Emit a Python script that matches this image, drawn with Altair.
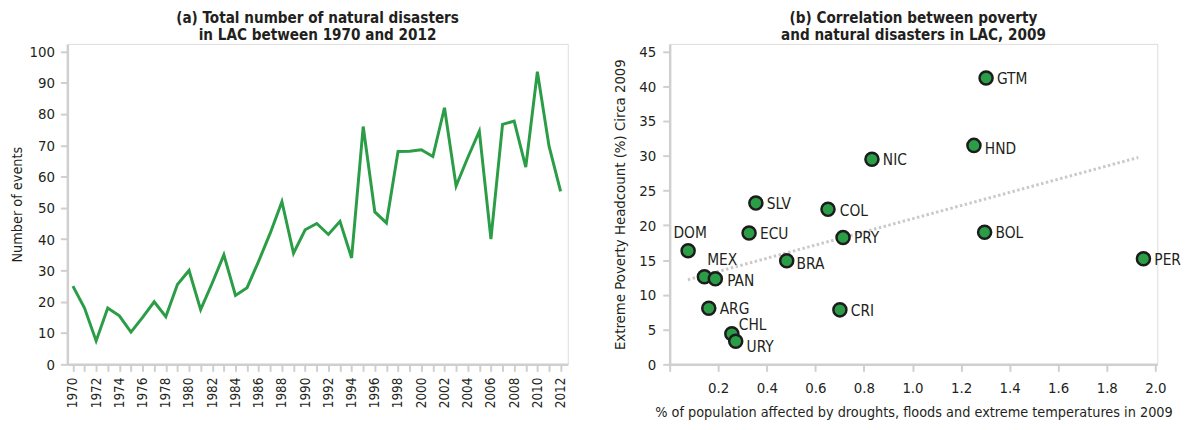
import altair as alt
import pandas as pd

# ---------------- data ----------------
years = list(range(1970, 2013))
events = [25, 18, 7.5, 18, 15.5, 10.3, 15, 20, 15.2, 25.5,
          30, 17.5, 26, 35, 22, 24.5, 33, 42, 52, 35.5,
          43, 45, 41.5, 45.7, 34, 76, 48.7, 45.2, 68, 68.1,
          68.6, 66.4, 82, 57, 66, 74.5, 40, 76.7, 77.7, 63,
          93.5, 69.8, 55.3]

countries = ["DOM", "MEX", "PAN", "ARG", "CHL", "URY", "SLV", "ECU", "BRA",
             "COL", "PRY", "CRI", "NIC", "GTM", "HND", "BOL", "PER"]
affected = [0.076, 0.143, 0.188, 0.161, 0.256, 0.272, 0.355, 0.327, 0.482,
            0.652, 0.714, 0.701, 0.833, 1.303, 1.253, 1.297, 1.951]
poverty = [16.35, 12.6, 12.3, 8.08, 4.4, 3.33, 23.2, 18.9, 14.9,
           22.3, 18.25, 7.84, 29.5, 41.2, 31.5, 19.0, 15.2]

title_a = ["(a) Total number of natural disasters", "in LAC between 1970 and 2012"]
title_b = ["(b) Correlation between poverty", "and natural disasters in LAC, 2009"]
ytitle_a = "Number of events"
ytitle_b = "Extreme Poverty Headcount (%) Circa 2009"
xtitle_b = "% of population affected by droughts, floods and extreme temperatures in 2009"

# ---------------- style ----------------
FONT = "'DejaVu Sans Condensed', 'Liberation Sans Narrow', 'DejaVu Sans', sans-serif"
GREEN = "#2a9d46"
AXIS_GRAY = "#cfcfcf"
TEXT = "#231f20"

# label offsets (dx, dy, align) for the scatter labels
default_off = (11, 1, "left")
label_off = {
    "DOM": (2, -18, "center"),
    "MEX": (18, -17, "center"),
    "CHL": (7, -9, "left"),
    "URY": (11, 6, "left"),
    "BRA": (10, 3, "left"),
    "HND": (11, 4, "left"),
    "COL": (12, 2, "left"),
    "PAN": (12, 2, "left"),
}

df_a = pd.DataFrame({"year": years, "events": events})
df_b = pd.DataFrame({"country": countries, "affected": affected, "poverty": poverty})

axis_style = dict(
    domainColor=AXIS_GRAY, domainWidth=2.5, tickColor=AXIS_GRAY, tickWidth=2,
    tickSize=7, grid=False, labelColor=TEXT, titleColor=TEXT,
    labelFont=FONT, titleFont=FONT, titleFontWeight="normal",
    labelOverlap=False, labelFlush=False,
)

def make_title(lines):
    return alt.TitleParams(text=lines, font=FONT, fontSize=15.3, fontWeight="bold",
                           color=TEXT, anchor="middle", lineHeight=16.5, offset=1)

# ---------------- panel (a) ----------------
left = alt.Chart(df_a).mark_line(color=GREEN, strokeWidth=3, strokeJoin="miter").encode(
    x=alt.X("year:Q",
            scale=alt.Scale(domain=[1969.52, 2012.62], nice=False, zero=False),
            axis=alt.Axis(values=years, format="d",
                          labelExpr="datum.value % 2 == 0 ? datum.label : ''",
                          labelAngle=270, labelFontSize=13.5, labelPadding=6,
                          title=None, **axis_style)),
    y=alt.Y("events:Q",
            scale=alt.Scale(domain=[0, 102.4], nice=False),
            axis=alt.Axis(values=list(range(0, 101, 10)), labelFontSize=15,
                          labelPadding=6, title=ytitle_a, titleFontSize=14.5,
                          titlePadding=5, **axis_style)),
).properties(width=506, height=324, title=make_title(title_a))

# ---------------- panel (b) ----------------
base_b = alt.Chart(df_b)

xb = alt.X("affected:Q",
           scale=alt.Scale(domain=[0, 2.008], nice=False),
           axis=alt.Axis(values=[0, 0.2, 0.4, 0.6, 0.8, 1.0, 1.2, 1.4, 1.6, 1.8, 2.0],
                         labelExpr="datum.value == 0 ? '' : format(datum.value, '.1f')",
                         labelFontSize=15, labelPadding=9, title=xtitle_b,
                         titleFontSize=14.5, titlePadding=11, **axis_style))
yb = alt.Y("poverty:Q",
           scale=alt.Scale(domain=[0, 46.1], nice=False),
           axis=alt.Axis(values=list(range(0, 46, 5)), labelFontSize=15,
                         labelPadding=7, title=ytitle_b, titleFontSize=15,
                         titlePadding=12, **axis_style))

trend = base_b.transform_regression(
    "affected", "poverty", extent=[0.075, 1.93]
).mark_line(color="#c9c9c9", strokeWidth=3, strokeDash=[2.5, 2.5]).encode(x=xb, y=yb)

points = base_b.mark_circle(color=GREEN, opacity=1, size=175,
                            stroke="#1c1c1c", strokeWidth=2.5).encode(x=xb, y=yb)

label_layers = []
for c in countries:
    dx, dy, al = label_off.get(c, default_off)
    label_layers.append(
        base_b.transform_filter(alt.datum.country == c).mark_text(
            font=FONT, fontSize=15.5, color=TEXT, dx=dx, dy=dy, align=al,
            baseline="middle").encode(x=xb, y=yb, text="country:N"))

right = alt.layer(trend, points, *label_layers).properties(
    width=493, height=324, title=make_title(title_b))

chart = alt.hconcat(left, right, spacing=43).properties(
    padding={"left": 0, "top": 0, "right": 0, "bottom": 0}
).configure_view(stroke=None).configure(background="white")

chart.save("out.html", embed_options={"renderer": "svg", "actions": False})
